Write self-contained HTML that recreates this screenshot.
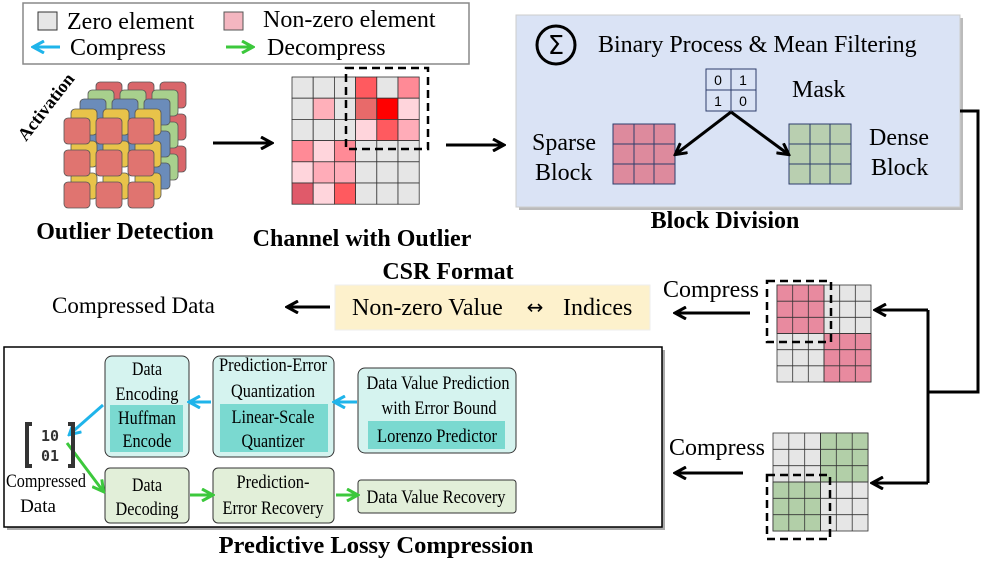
<!DOCTYPE html>
<html><head><meta charset="utf-8"><style>
html,body{margin:0;padding:0;background:#fff;}
svg{display:block;font-family:"Liberation Serif",serif;}
</style></head><body>
<svg width="997" height="561" viewBox="0 0 997 561" xmlns="http://www.w3.org/2000/svg" font-family="Liberation Serif, serif">
<defs>
<marker id="ak" markerWidth="14" markerHeight="14" refX="11" refY="7" orient="auto" markerUnits="userSpaceOnUse"><path d="M1,1 L12,7 L1,13" fill="none" stroke="#000" stroke-width="3"/></marker>
<marker id="ab" markerWidth="14" markerHeight="14" refX="11" refY="7" orient="auto" markerUnits="userSpaceOnUse"><path d="M1,1 L12,7 L1,13" fill="none" stroke="#1fb4ea" stroke-width="3"/></marker>
<marker id="ag" markerWidth="14" markerHeight="14" refX="11" refY="7" orient="auto" markerUnits="userSpaceOnUse"><path d="M1,1 L12,7 L1,13" fill="none" stroke="#3cc83c" stroke-width="3"/></marker>
</defs>

<!-- Legend -->
<rect x="23" y="3" width="446" height="61" fill="#fff" stroke="#888" stroke-width="1.5"/>
<rect x="38" y="12" width="19" height="18" fill="#e6e6e6" stroke="#333"/>
<text x="67" y="29" font-size="24">Zero element</text>
<rect x="224" y="12" width="19" height="18" fill="#f4b6c0" stroke="#555"/>
<text x="263" y="27" font-size="24">Non-zero element</text>
<line x1="60" y1="47" x2="34" y2="47" stroke="#1fb4ea" stroke-width="3" marker-end="url(#ab)"/>
<text x="70" y="55" font-size="24">Compress</text>
<line x1="226" y1="47" x2="252" y2="47" stroke="#3cc83c" stroke-width="3" marker-end="url(#ag)"/>
<text x="267" y="55" font-size="24">Decompress</text>

<!-- Activation cubes -->
<g stroke="#555" stroke-width="0.8">
<g transform="translate(32,-36)" fill="#d9666a"><rect x="64" y="118" width="26" height="26" rx="4"/><rect x="96" y="118" width="26" height="26" rx="4"/><rect x="128" y="118" width="26" height="26" rx="4"/><rect x="64" y="150" width="26" height="26" rx="4"/><rect x="96" y="150" width="26" height="26" rx="4"/><rect x="128" y="150" width="26" height="26" rx="4"/><rect x="128" y="182" width="26" height="26" rx="4"/></g>
<g transform="translate(24,-28)" fill="#a8d08d"><rect x="64" y="118" width="26" height="26" rx="4"/><rect x="96" y="118" width="26" height="26" rx="4"/><rect x="128" y="118" width="26" height="26" rx="4"/><rect x="128" y="150" width="26" height="26" rx="4"/><rect x="128" y="182" width="26" height="26" rx="4"/></g>
<g transform="translate(16,-19)" fill="#6b8cba"><rect x="64" y="118" width="26" height="26" rx="4"/><rect x="96" y="118" width="26" height="26" rx="4"/><rect x="128" y="118" width="26" height="26" rx="4"/><rect x="64" y="150" width="26" height="26" rx="4"/><rect x="96" y="150" width="26" height="26" rx="4"/><rect x="128" y="150" width="26" height="26" rx="4"/><rect x="128" y="182" width="26" height="26" rx="4"/></g>
<g transform="translate(7,-9)" fill="#e8c34a"><rect x="64" y="118" width="26" height="26" rx="4"/><rect x="96" y="118" width="26" height="26" rx="4"/><rect x="128" y="118" width="26" height="26" rx="4"/><rect x="64" y="150" width="26" height="26" rx="4"/><rect x="96" y="150" width="26" height="26" rx="4"/><rect x="128" y="150" width="26" height="26" rx="4"/><rect x="64" y="182" width="26" height="26" rx="4"/><rect x="96" y="182" width="26" height="26" rx="4"/><rect x="128" y="182" width="26" height="26" rx="4"/></g>
<g fill="#e07470"><rect x="64" y="118" width="26" height="26" rx="4"/><rect x="96" y="118" width="26" height="26" rx="4"/><rect x="128" y="118" width="26" height="26" rx="4"/><rect x="64" y="150" width="26" height="26" rx="4"/><rect x="96" y="150" width="26" height="26" rx="4"/><rect x="128" y="150" width="26" height="26" rx="4"/><rect x="64" y="182" width="26" height="26" rx="4"/><rect x="96" y="182" width="26" height="26" rx="4"/><rect x="128" y="182" width="26" height="26" rx="4"/></g>
</g>
<text x="0" y="0" font-size="18" font-weight="bold" transform="translate(26,142) rotate(-52)">Activation</text>
<text x="125" y="239" font-size="24" font-weight="bold" text-anchor="middle">Outlier Detection</text>
<line x1="213" y1="143" x2="271" y2="143" stroke="#000" stroke-width="3" marker-end="url(#ak)"/>

<!-- Channel grid -->
<g stroke="#333" stroke-width="0.8">
<rect x="292" y="77" width="21.2" height="21.2" fill="#e6e6e6"/><rect x="313.2" y="77" width="21.2" height="21.2" fill="#e6e6e6"/><rect x="334.4" y="77" width="21.2" height="21.2" fill="#e6e6e6"/><rect x="355.6" y="77" width="21.2" height="21.2" fill="#ff5a5f"/><rect x="376.8" y="77" width="21.2" height="21.2" fill="#e6e6e6"/><rect x="398" y="77" width="21.2" height="21.2" fill="#ff8a96"/>
<rect x="292" y="98.2" width="21.2" height="21.2" fill="#e6e6e6"/><rect x="313.2" y="98.2" width="21.2" height="21.2" fill="#ffb0ba"/><rect x="334.4" y="98.2" width="21.2" height="21.2" fill="#e6e6e6"/><rect x="355.6" y="98.2" width="21.2" height="21.2" fill="#e86a6a"/><rect x="376.8" y="98.2" width="21.2" height="21.2" fill="#ff0000"/><rect x="398" y="98.2" width="21.2" height="21.2" fill="#ffd5dc"/>
<rect x="292" y="119.4" width="21.2" height="21.2" fill="#e6e6e6"/><rect x="313.2" y="119.4" width="21.2" height="21.2" fill="#e6e6e6"/><rect x="334.4" y="119.4" width="21.2" height="21.2" fill="#e6e6e6"/><rect x="355.6" y="119.4" width="21.2" height="21.2" fill="#ffd5dc"/><rect x="376.8" y="119.4" width="21.2" height="21.2" fill="#ff5a5f"/><rect x="398" y="119.4" width="21.2" height="21.2" fill="#ffacb8"/>
<rect x="292" y="140.6" width="21.2" height="21.2" fill="#ff8a96"/><rect x="313.2" y="140.6" width="21.2" height="21.2" fill="#ffd5dc"/><rect x="334.4" y="140.6" width="21.2" height="21.2" fill="#ff8a96"/><rect x="355.6" y="140.6" width="21.2" height="21.2" fill="#e6e6e6"/><rect x="376.8" y="140.6" width="21.2" height="21.2" fill="#e6e6e6"/><rect x="398" y="140.6" width="21.2" height="21.2" fill="#e6e6e6"/>
<rect x="292" y="161.8" width="21.2" height="21.2" fill="#ffd5dc"/><rect x="313.2" y="161.8" width="21.2" height="21.2" fill="#ffacb8"/><rect x="334.4" y="161.8" width="21.2" height="21.2" fill="#ffacb8"/><rect x="355.6" y="161.8" width="21.2" height="21.2" fill="#e6e6e6"/><rect x="376.8" y="161.8" width="21.2" height="21.2" fill="#e6e6e6"/><rect x="398" y="161.8" width="21.2" height="21.2" fill="#e6e6e6"/>
<rect x="292" y="183" width="21.2" height="21.2" fill="#e05a6a"/><rect x="313.2" y="183" width="21.2" height="21.2" fill="#ffd5dc"/><rect x="334.4" y="183" width="21.2" height="21.2" fill="#ff5a5f"/><rect x="355.6" y="183" width="21.2" height="21.2" fill="#e6e6e6"/><rect x="376.8" y="183" width="21.2" height="21.2" fill="#e6e6e6"/><rect x="398" y="183" width="21.2" height="21.2" fill="#e6e6e6"/>
</g>
<rect x="346" y="68" width="82" height="81" fill="none" stroke="#000" stroke-width="2.5" stroke-dasharray="8,5"/>
<text x="362" y="246" font-size="24" font-weight="bold" text-anchor="middle">Channel with Outlier</text>
<line x1="446" y1="145" x2="503" y2="145" stroke="#000" stroke-width="3" marker-end="url(#ak)"/>

<!-- Block division -->
<rect x="519" y="18" width="444" height="192" fill="#bbb"/>
<rect x="516" y="15" width="444" height="192" fill="#dae3f5" stroke="#ccc"/>
<circle cx="556" cy="45" r="19" fill="none" stroke="#000" stroke-width="3"/>
<text x="556" y="54" font-size="26" text-anchor="middle" font-family="DejaVu Sans,sans-serif">Σ</text>
<text x="598" y="52" font-size="24">Binary Process &amp; Mean Filtering</text>
<g stroke="#2d3d6b" stroke-width="1" fill="none">
<rect x="706" y="69" width="25" height="21"/><rect x="731" y="69" width="25" height="21"/><rect x="706" y="90" width="25" height="21"/><rect x="731" y="90" width="25" height="21"/>
</g>
<g font-family="Liberation Sans,sans-serif" font-size="14" text-anchor="middle"><text x="718" y="85">0</text><text x="743" y="85">1</text><text x="718" y="106">1</text><text x="743" y="106">0</text></g>
<text x="792" y="97" font-size="24">Mask</text>
<g stroke="#2d3d6b" stroke-width="1">
<rect x="613" y="124" width="21" height="20" fill="#dd8a9d"/><rect x="634" y="124" width="20" height="20" fill="#dd8a9d"/><rect x="654" y="124" width="21" height="20" fill="#dd8a9d"/>
<rect x="613" y="144" width="21" height="20" fill="#dd8a9d"/><rect x="634" y="144" width="20" height="20" fill="#dd8a9d"/><rect x="654" y="144" width="21" height="20" fill="#dd8a9d"/>
<rect x="613" y="164" width="21" height="20" fill="#dd8a9d"/><rect x="634" y="164" width="20" height="20" fill="#dd8a9d"/><rect x="654" y="164" width="21" height="20" fill="#dd8a9d"/>
<rect x="789" y="124" width="21" height="20" fill="#b9cfb0"/><rect x="810" y="124" width="20" height="20" fill="#b9cfb0"/><rect x="830" y="124" width="21" height="20" fill="#b9cfb0"/>
<rect x="789" y="144" width="21" height="20" fill="#b9cfb0"/><rect x="810" y="144" width="20" height="20" fill="#b9cfb0"/><rect x="830" y="144" width="21" height="20" fill="#b9cfb0"/>
<rect x="789" y="164" width="21" height="20" fill="#b9cfb0"/><rect x="810" y="164" width="20" height="20" fill="#b9cfb0"/><rect x="830" y="164" width="21" height="20" fill="#b9cfb0"/>
</g>
<line x1="731" y1="112" x2="676" y2="154" stroke="#000" stroke-width="3" marker-end="url(#ak)"/>
<line x1="731" y1="112" x2="788" y2="154" stroke="#000" stroke-width="3" marker-end="url(#ak)"/>
<text x="532" y="150" font-size="24">Sparse</text><text x="535" y="180" font-size="24">Block</text>
<text x="869" y="145" font-size="24">Dense</text><text x="871" y="175" font-size="24">Block</text>
<text x="725" y="228" font-size="24" font-weight="bold" text-anchor="middle">Block Division</text>

<!-- connector -->
<polyline points="960,111 978,111 978,392 928,392" fill="none" stroke="#000" stroke-width="3"/>
<polyline points="928,310 928,483" fill="none" stroke="#000" stroke-width="3"/>
<line x1="928" y1="310" x2="876" y2="310" stroke="#000" stroke-width="3" marker-end="url(#ak)"/>
<line x1="928" y1="483" x2="873" y2="483" stroke="#000" stroke-width="3" marker-end="url(#ak)"/>

<!-- sparse 6x6 -->
<g stroke="#333" stroke-width="0.8">
<rect x="777" y="285" width="94" height="97" fill="#e6e6e6"/>
<rect x="777" y="285" width="47" height="48.5" fill="#e88a9f"/>
<rect x="824" y="333.5" width="47" height="48.5" fill="#e88a9f"/>
<path d="M792.7,285V382M808.3,285V382M824,285V382M839.7,285V382M855.3,285V382M777,301.2H871M777,317.3H871M777,333.5H871M777,349.7H871M777,365.8H871" fill="none"/>
</g>
<rect x="767" y="281" width="64" height="61" fill="none" stroke="#000" stroke-width="2.5" stroke-dasharray="8,5"/>
<!-- dense 6x6 -->
<g stroke="#333" stroke-width="0.8">
<rect x="773" y="433" width="95" height="98" fill="#e6e6e6"/>
<rect x="820.5" y="433" width="47.5" height="49" fill="#b2cfa8"/>
<rect x="773" y="482" width="47.5" height="49" fill="#b2cfa8"/>
<path d="M788.8,433V531M804.7,433V531M820.5,433V531M836.3,433V531M852.2,433V531M773,449.3H868M773,465.7H868M773,482H868M773,498.3H868M773,514.7H868" fill="none"/>
</g>
<rect x="767" y="475" width="63" height="64" fill="none" stroke="#000" stroke-width="2.5" stroke-dasharray="8,5"/>
<text x="663" y="297" font-size="24">Compress</text>
<line x1="750" y1="313" x2="676" y2="313" stroke="#000" stroke-width="3" marker-end="url(#ak)"/>
<text x="669" y="455" font-size="24">Compress</text>
<line x1="743" y1="473" x2="676" y2="473" stroke="#000" stroke-width="3" marker-end="url(#ak)"/>

<!-- CSR -->
<text x="448" y="279" font-size="24" font-weight="bold" text-anchor="middle">CSR Format</text>
<rect x="335" y="285" width="315" height="45" fill="#fdf1cc" stroke="#eee"/>
<text x="352" y="315" font-size="24">Non-zero Value</text>
<text x="535" y="314" font-size="20" font-family="DejaVu Sans,sans-serif" text-anchor="middle">↔</text>
<text x="563" y="315" font-size="24">Indices</text>
<line x1="330" y1="307" x2="288" y2="307" stroke="#000" stroke-width="3" marker-end="url(#ak)"/>
<text x="52" y="313" font-size="23">Compressed Data</text>

<!-- Predictive lossy compression -->
<rect x="7" y="350" width="658" height="180" fill="#aaa"/>
<rect x="4" y="347" width="658" height="180" fill="#fff" stroke="#000" stroke-width="1.5"/>
<g stroke="#333" stroke-width="1">
<rect x="105" y="356" width="84" height="101" rx="7" fill="#d5f3ef"/>
<rect x="213" y="356" width="121" height="101" rx="7" fill="#d5f3ef"/>
<rect x="358" y="368" width="158" height="85" rx="7" fill="#d5f3ef"/>
<rect x="105" y="468" width="84" height="55" rx="5" fill="#e2efd9"/>
<rect x="213" y="468" width="121" height="55" rx="5" fill="#e2efd9"/>
<rect x="358" y="480" width="158" height="33" rx="3" fill="#e2efd9"/>
</g>
<rect x="110" y="405" width="73" height="47" fill="#7ad9d0"/>
<rect x="220" y="404" width="108" height="48" fill="#7ad9d0"/>
<rect x="368" y="421" width="137" height="28" fill="#7ad9d0"/>
<g font-size="19" text-anchor="middle" lengthAdjust="spacingAndGlyphs">
<text x="147" y="375" textLength="30" lengthAdjust="spacingAndGlyphs">Data</text>
<text x="147" y="400" textLength="63" lengthAdjust="spacingAndGlyphs">Encoding</text>
<text x="147" y="424" textLength="58" lengthAdjust="spacingAndGlyphs">Huffman</text>
<text x="147" y="447" textLength="49" lengthAdjust="spacingAndGlyphs">Encode</text>
<text x="273" y="371" textLength="108" lengthAdjust="spacingAndGlyphs">Prediction-Error</text>
<text x="273" y="397" textLength="84" lengthAdjust="spacingAndGlyphs">Quantization</text>
<text x="273" y="423" textLength="83" lengthAdjust="spacingAndGlyphs">Linear-Scale</text>
<text x="273" y="447" textLength="63" lengthAdjust="spacingAndGlyphs">Quantizer</text>
<text x="438" y="389" textLength="143" lengthAdjust="spacingAndGlyphs">Data Value Prediction</text>
<text x="439" y="414" textLength="115" lengthAdjust="spacingAndGlyphs">with Error Bound</text>
<text x="437" y="442" textLength="120" lengthAdjust="spacingAndGlyphs">Lorenzo Predictor</text>
<text x="147" y="491" textLength="30" lengthAdjust="spacingAndGlyphs">Data</text>
<text x="147" y="515" textLength="63" lengthAdjust="spacingAndGlyphs">Decoding</text>
<text x="273" y="488" textLength="73" lengthAdjust="spacingAndGlyphs">Prediction-</text>
<text x="273" y="514" textLength="101" lengthAdjust="spacingAndGlyphs">Error Recovery</text>
<text x="436" y="503" textLength="139" lengthAdjust="spacingAndGlyphs">Data Value Recovery</text>
</g>
<line x1="211" y1="402" x2="190" y2="402" stroke="#1fb4ea" stroke-width="3" marker-end="url(#ab)"/>
<line x1="357" y1="402" x2="335" y2="402" stroke="#1fb4ea" stroke-width="3" marker-end="url(#ab)"/>
<line x1="103" y1="405" x2="70" y2="434" stroke="#1fb4ea" stroke-width="3" marker-end="url(#ab)"/>
<line x1="67" y1="443" x2="103" y2="491" stroke="#3cc83c" stroke-width="3" marker-end="url(#ag)"/>
<line x1="190" y1="495" x2="212" y2="495" stroke="#3cc83c" stroke-width="3" marker-end="url(#ag)"/>
<line x1="336" y1="495" x2="357" y2="495" stroke="#3cc83c" stroke-width="3" marker-end="url(#ag)"/>
<path d="M32,424 H27 V466 H32 M68,424 H73 V466 H68" fill="none" stroke="#333" stroke-width="4"/>
<g font-family="DejaVu Sans Mono,monospace" font-size="15" fill="#333" font-weight="bold" text-anchor="middle"><text x="50" y="441">10</text><text x="50" y="461">01</text></g>
<text x="6" y="487" font-size="19" textLength="80" lengthAdjust="spacingAndGlyphs">Compressed</text>
<text x="38" y="512" font-size="19" text-anchor="middle">Data</text>
<text x="376" y="553" font-size="24.5" font-weight="bold" text-anchor="middle">Predictive Lossy Compression</text>
</svg>
</body></html>
